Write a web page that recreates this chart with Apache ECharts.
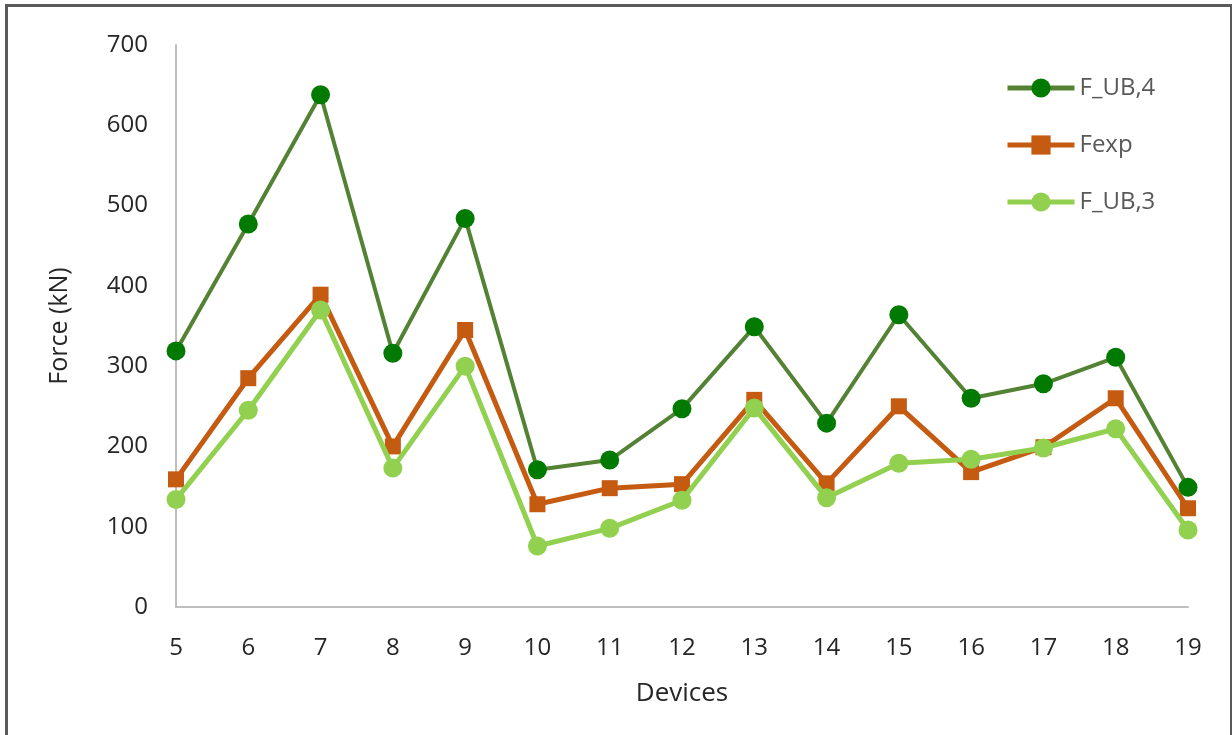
<!DOCTYPE html>
<html>
<head>
<meta charset="utf-8">
<script src="https://cdn.jsdelivr.net/npm/echarts@6/dist/echarts.min.js"></script>
<style>
  html, body { margin: 0; padding: 0; background: #ffffff; }
  #frame { position: absolute; left: 5px; top: 4px; width: 1222px; height: 740px;
           border-left: 3px solid #5a5a5a; border-top: 3px solid #5a5a5a; border-right: 3px solid #5a5a5a; }
  #chart { position: absolute; left: 0; top: 0; width: 1232px; height: 735px; }
</style>
</head>
<body>
<div id="frame"></div>
<div id="chart"></div>
<script>
// Devices along the x axis
const devices = ['5','6','7','8','9','10','11','12','13','14','15','16','17','18','19'];
// Force values (kN) per device
const fUB4 = [319, 477, 638, 316, 484, 171, 183, 247, 349, 229, 364, 260, 278, 311, 149];
const fExp = [159, 285, 389, 200, 345, 128, 148, 153, 258, 154, 250, 168, 199, 260, 123];
const fUB3 = [134, 245, 370, 173, 300, 76, 98, 133, 248, 136, 179, 184, 198, 222, 96];

const font = '"Open Sans", "Liberation Sans", sans-serif';
const chart = echarts.init(document.getElementById('chart'), null, { renderer: 'canvas' });

chart.setOption({
  animation: false,
  backgroundColor: 'transparent',
  grid: { left: 176, right: 44, top: 45, bottom: 128, containLabel: false },
  legend: {
    orient: 'vertical',
    left: 1005, top: 76,
    padding: 0,
    itemGap: 33,
    itemWidth: 67, itemHeight: 24,
    lineStyle: { width: 5 },
    textStyle: { fontFamily: font, fontSize: 24, color: '#595959', padding: [0, 0, 0, 0] },
    data: ['F_UB,4', 'Fexp', 'F_UB,3']
  },
  xAxis: {
    type: 'category',
    data: devices,
    boundaryGap: false,
    name: 'Devices',
    nameLocation: 'middle',
    nameGap: 74,
    nameTextStyle: { fontFamily: font, fontSize: 26, color: '#262626' },
    axisLine: { lineStyle: { color: '#bfbfbf', width: 2 } },
    axisTick: { show: false },
    axisLabel: { fontFamily: font, fontSize: 24, color: '#262626', margin: 29 },
    splitLine: { show: false }
  },
  yAxis: {
    type: 'value',
    min: 0, max: 700, interval: 100,
    name: 'Force (kN)',
    nameLocation: 'middle',
    nameGap: 104,
    nameRotate: 90,
    nameTextStyle: { fontFamily: font, fontSize: 25, color: '#262626' },
    axisLine: { show: true, lineStyle: { color: '#bfbfbf', width: 2 } },
    axisTick: { show: false },
    axisLabel: { fontFamily: font, fontSize: 24, color: '#262626', margin: 28 },
    splitLine: { show: false }
  },
  series: [
    {
      name: 'F_UB,4', type: 'line', data: fUB4,
      symbol: 'circle', symbolSize: 19,
      lineStyle: { color: '#548235', width: 4 },
      itemStyle: { color: '#007a00' },
      z: 3
    },
    {
      name: 'Fexp', type: 'line', data: fExp,
      symbol: 'rect', symbolSize: 16,
      lineStyle: { color: '#c55a11', width: 5 },
      itemStyle: { color: '#c55a11' },
      z: 2
    },
    {
      name: 'F_UB,3', type: 'line', data: fUB3,
      symbol: 'circle', symbolSize: 19,
      lineStyle: { color: '#92d050', width: 5 },
      itemStyle: { color: '#92d050' },
      z: 4
    }
  ]
});
</script>
</body>
</html>
